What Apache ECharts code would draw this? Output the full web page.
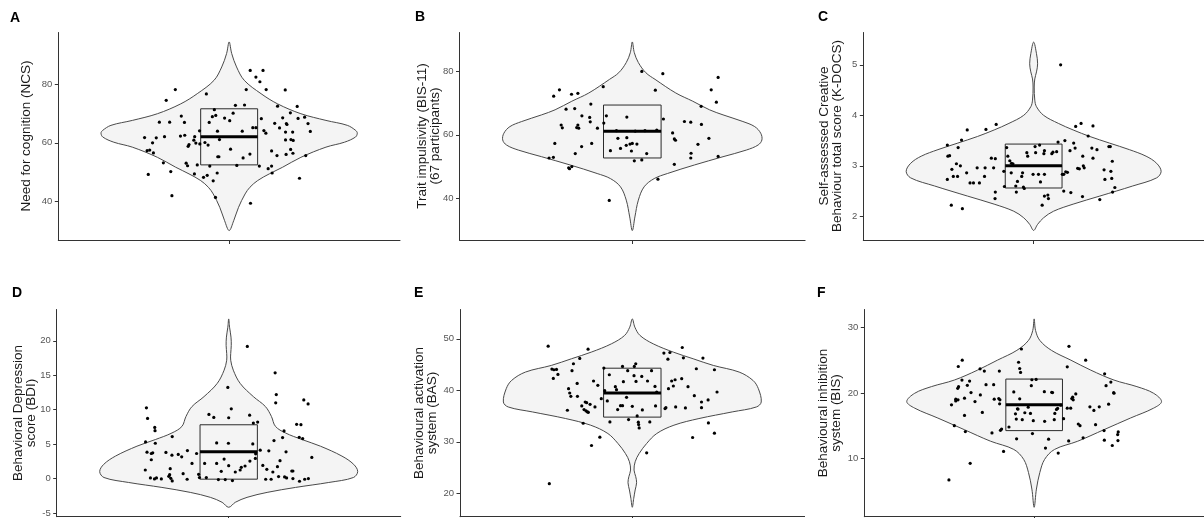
<!DOCTYPE html>
<html><head><meta charset="utf-8">
<script src="https://cdn.jsdelivr.net/npm/echarts@6/dist/echarts.min.js"></script>
<style>html,body{margin:0;padding:0;background:#fff}#c{width:1204px;height:518px}</style>
</head><body><div id="c"></div>
<script>
// ---------- Panel A: Need for cognition (NCS) ----------
const ncsJitter = [-0.189,-0.221,-0.297,-0.256,-0.288,-0.279,-0.266,-0.269,-0.284,-0.231,
-0.201,-0.205,-0.245,-0.209,-0.227,-0.168,-0.157,-0.171,-0.156,-0.151,
-0.146,-0.144,-0.141,-0.124,-0.121,-0.117,-0.122,-0.112,-0.104,-0.103,
-0.090,-0.085,-0.080,-0.077,-0.074,-0.068,-0.070,-0.059,-0.047,-0.056,
-0.042,-0.041,-0.052,-0.040,-0.036,-0.034,-0.048,-0.016,0.002,0.005,
0.014,0.022,0.027,0.046,0.049,0.054,0.060,0.073,0.074,0.075,
0.083,0.094,0.094,0.108,0.113,0.119,0.130,0.106,0.122,0.129,
0.137,0.149,0.149,0.151,0.160,0.168,0.170,0.177,0.188,0.197,
0.198,0.201,0.198,0.200,0.203,0.215,0.216,0.217,0.224,0.223,
0.225,0.239,0.242,0.247,0.265,0.269,0.277,0.285];
const ncsValues = [78.3,74.6,61.8,61.7,57.3,57.5,56.5,60.0,49.1,53.1,
41.8,50.1,67.1,67.1,62.1,69.2,67.0,62.3,62.6,53.0,
52.1,58.8,59.4,60.9,62.1,59.9,49.3,52.4,64.1,59.6,
48.1,60.1,76.8,48.8,59.2,52.0,67.0,69.0,69.4,46.9,
49.6,64.0,71.4,55.2,55.2,61.1,41.2,68.5,67.6,57.8,
70.2,72.9,52.2,64.0,54.8,73.0,78.3,56.1,84.9,39.2,
65.2,65.2,82.6,81.0,68.3,84.9,78.3,52.0,64.2,63.3,
51.1,57.2,52.0,49.6,66.7,55.6,72.6,65.1,68.6,78.2,
63.7,66.6,61.0,56.0,66.3,70.3,57.7,61.1,56.4,63.7,
60.8,72.5,68.4,47.8,68.8,55.6,66.6,63.9];
const ncsViolinY = [94.7,90.7,86.1,81.5,76.9,73.4,70.0,67.7,66.0,64.2,63.3,62.0,60.2,58.5,55.0,51.6,49.3,47.0,44.7,42.4,37.8,33.2,29.8];
const ncsViolinHalfWidth = [0,0.009,0.026,0.053,0.112,0.170,0.252,0.340,0.415,0.445,0.450,0.444,0.405,0.340,0.252,0.188,0.141,0.100,0.073,0.056,0.033,0.016,0];
const ncsBox = [52.4,62.1,71.7];
const ncsTicks = [40,60,80];

// ---------- Panel B: Trait impulsivity (BIS-11) ----------
const bisJitter = [-0.273,-0.253,-0.211,-0.189,-0.101,0.033,0.106,0.080,0.298,0.274,
0.292,-0.230,-0.200,-0.144,-0.175,-0.148,-0.146,-0.121,-0.247,-0.243,
-0.193,-0.189,-0.186,-0.269,-0.289,-0.274,-0.198,-0.176,-0.141,-0.221,
-0.218,-0.210,-0.099,-0.090,-0.019,-0.050,-0.019,-0.076,-0.041,-0.021,
-0.008,0.000,0.016,-0.003,0.050,0.007,0.033,-0.080,0.085,0.108,
0.089,0.140,0.146,0.150,0.146,0.181,0.203,0.239,0.240,0.228,
0.204,0.203,0.266,0.298,-0.055,0.044,0.010];
const bisValues = [72.2,74.2,72.8,73.1,75.2,80.0,79.3,74.1,78.1,74.2,
70.3,68.1,68.3,69.7,66.0,65.5,64.1,62.1,63.1,62.2,
62.3,63.1,62.1,57.3,52.7,52.9,54.1,56.3,57.3,49.6,
49.3,50.0,63.7,66.0,65.6,58.9,59.1,55.0,55.7,56.7,
57.1,57.3,57.1,54.9,54.1,51.8,52.1,39.3,61.5,65.0,
46.0,60.6,58.7,58.3,50.7,64.2,64.0,69.0,63.3,57.0,
54.2,52.7,58.9,53.2,61.3,61.3,61.2];
const bisViolinY = [89.3,85.9,82.8,79.6,77.5,73.2,70.6,67.9,66.3,64.2,62.6,60.5,58.4,56.8,55.2,53.1,50.5,47.8,46.2,43.6,39.4,34.1,29.8];
const bisViolinHalfWidth = [0,0.007,0.021,0.047,0.079,0.151,0.210,0.268,0.315,0.384,0.425,0.446,0.450,0.437,0.396,0.315,0.216,0.122,0.076,0.041,0.021,0.009,0];
const bisBox = [52.7,61.1,69.4];
const bisTicks = [40,60,80];

// ---------- Panel C: K-DOCS ----------
const kdocsJitter = [-0.304,-0.302,-0.296,-0.304,-0.288,-0.272,-0.266,-0.283,-0.268,-0.258,
-0.254,-0.234,-0.290,-0.251,-0.236,-0.224,-0.212,-0.199,-0.191,-0.173,
-0.171,-0.168,-0.132,-0.149,-0.135,-0.141,-0.135,-0.136,-0.105,-0.095,
-0.091,-0.103,-0.084,-0.078,-0.073,-0.079,-0.063,-0.061,-0.057,-0.042,
-0.039,-0.036,-0.033,-0.024,-0.021,-0.002,0.005,0.007,0.017,0.024,
0.021,0.038,0.038,0.036,0.030,0.038,0.052,0.050,0.064,0.068,
0.081,0.086,0.095,0.101,0.106,0.106,0.113,0.119,0.110,0.131,
0.128,0.141,0.146,0.148,0.167,0.155,0.161,0.172,0.173,0.175,
0.178,0.192,0.205,0.209,0.209,0.223,0.233,0.248,0.251,0.265,
0.270,0.272,0.275,0.277,0.278,0.286];
const kdocsValues = [3.41,3.19,3.20,2.73,2.93,3.04,3.36,2.79,2.79,3.00,
3.51,3.71,2.22,2.15,2.86,2.66,2.66,2.96,2.66,2.79,
2.96,3.72,3.82,3.15,3.14,2.96,2.48,2.35,2.89,3.36,
3.19,2.59,3.10,3.05,3.04,2.86,2.60,2.48,2.69,2.79,
2.86,2.58,2.55,3.26,3.19,2.83,3.38,3.26,2.83,2.68,
3.41,3.30,2.83,3.24,2.22,2.40,2.35,2.42,3.24,3.27,
3.28,3.47,5.00,2.83,2.83,2.50,2.88,2.87,3.50,2.47,
3.30,3.45,3.35,3.78,3.84,2.95,2.94,2.39,3.19,3.00,
2.96,3.59,3.35,3.79,3.15,3.32,2.33,2.92,2.73,3.38,
3.38,2.89,2.75,3.09,2.48,2.57];
const kdocsViolinY = [5.45,5.22,5.02,4.86,4.72,4.56,4.30,4.17,4.00,3.84,3.71,3.58,3.45,3.32,3.19,3.05,2.89,2.76,2.60,2.40,2.24,2.10,1.97,1.84,1.72];
const kdocsViolinHalfWidth = [0,0.010,0.014,0.010,0.004,0.002,0.004,0.010,0.035,0.087,0.139,0.198,0.267,0.337,0.396,0.433,0.449,0.433,0.349,0.233,0.139,0.070,0.035,0.014,0];
const kdocsBox = [2.56,3.00,3.43];
const kdocsTicks = [2,3,4,5];

// ---------- Panel D: BDI ----------
const bdiJitter = [-0.287,-0.283,-0.258,-0.257,-0.290,-0.285,-0.270,-0.265,-0.270,-0.256,
-0.291,-0.273,-0.259,-0.252,-0.235,-0.219,-0.209,-0.206,-0.204,-0.202,
-0.197,-0.197,-0.198,-0.176,-0.164,-0.159,-0.145,-0.144,-0.128,-0.112,
-0.105,-0.102,-0.078,-0.084,-0.069,-0.052,-0.042,-0.042,-0.036,-0.026,
-0.016,-0.012,-0.003,0.000,0.009,-0.001,0.000,0.013,0.023,0.040,
0.044,0.057,0.065,0.073,0.074,0.084,0.086,0.093,0.094,0.101,
0.110,0.119,0.133,0.129,0.140,0.148,0.154,0.158,0.162,0.166,
0.164,0.170,0.179,0.174,0.193,0.188,0.200,0.195,0.202,0.220,
0.224,0.224,0.237,0.246,0.247,0.252,0.258,0.262,0.277,0.265,
0.278,0.290];
const bdiValues = [10.26,8.72,7.42,6.94,5.31,3.82,3.63,3.73,2.72,5.12,
1.23,0.08,-0.06,0.08,-0.06,3.78,0.32,0.56,1.42,0.03,
-0.35,6.08,3.39,3.49,3.15,0.70,-0.11,4.06,2.19,3.63,
0.61,0.13,0.13,2.19,9.30,8.86,5.17,2.19,-0.16,1.04,
2.82,-0.16,13.23,8.82,10.11,5.12,1.86,-0.30,0.94,1.23,
1.62,1.81,19.18,9.20,2.53,5.02,8.05,2.91,3.58,8.19,
4.11,1.90,1.33,-0.11,4.02,-0.11,0.94,5.50,15.34,12.18,
10.98,1.71,2.58,0.27,6.90,5.94,3.87,0.22,0.08,1.09,
1.09,-0.02,7.86,5.98,-0.40,7.81,5.79,11.41,10.83,-0.11,
-0.02,3.06];
const bdiViolinY = [23.17,21.97,20.53,19.33,18.13,17.17,15.73,13.81,11.89,10.45,9.01,7.57,6.61,5.65,4.69,3.25,2.05,1.00,0.14,-0.58,-1.30,-2.02,-2.74,-3.46,-4.18];
const bdiViolinHalfWidth = [0,0.003,0.008,0.009,0.007,0.007,0.016,0.040,0.086,0.128,0.149,0.163,0.198,0.256,0.320,0.395,0.436,0.450,0.435,0.349,0.233,0.134,0.064,0.023,0];
const bdiBox = [-0.1,3.9,7.8];
const bdiTicks = [-5,0,5,10,15,20];

// ---------- Panel E: BAS ----------
const basJitter = [-0.293,-0.289,-0.280,-0.273,-0.264,-0.259,-0.275,-0.222,-0.218,-0.214,
-0.226,-0.210,-0.205,-0.192,-0.191,-0.183,-0.176,-0.171,-0.168,-0.164,
-0.161,-0.159,-0.156,-0.153,-0.147,-0.154,-0.142,-0.135,-0.130,-0.120,
-0.113,-0.108,-0.099,-0.096,-0.087,-0.080,-0.078,-0.059,-0.055,-0.051,
-0.041,-0.034,-0.034,-0.031,-0.020,-0.016,-0.013,0.000,0.006,0.007,
0.012,0.013,0.017,0.021,0.022,0.024,0.033,0.035,0.050,0.053,
0.061,0.067,0.079,0.081,0.110,0.114,0.117,0.124,0.126,0.131,
0.137,0.143,0.149,0.151,0.172,0.174,0.178,0.185,0.194,0.210,
0.216,0.223,0.241,0.241,0.246,0.265,0.264,0.286,0.286,0.295,
0.085];
const basValues = [48.58,21.87,44.13,44.00,44.06,43.10,42.32,40.32,39.48,38.84,
36.13,43.81,45.16,41.35,38.84,46.19,36.97,33.61,36.26,37.74,
36.00,37.61,35.81,35.74,37.29,48.00,29.29,41.81,36.77,40.97,
30.90,38.39,44.32,39.94,37.94,43.03,33.87,40.71,40.13,36.26,
37.03,37.03,44.64,41.68,38.65,43.81,34.32,36.90,42.84,44.64,
45.16,41.74,35.03,33.81,33.35,32.71,42.71,36.19,27.87,41.81,
33.87,43.81,40.77,36.97,47.23,36.45,36.64,46.06,40.32,47.35,
41.81,40.84,42.06,36.77,42.26,48.32,46.32,36.58,40.71,30.84,
38.97,44.19,37.74,36.64,46.26,33.68,38.13,44.00,31.68,39.68,
39.68];
const basViolinY = [53.87,52.26,50.65,49.03,47.42,46.13,44.84,43.55,41.94,40.32,37.74,36.77,35.81,34.52,33.23,31.61,29.68,27.74,26.13,24.52,23.23,22.06,20.65,19.03,17.29];
const basViolinHalfWidth = [0,0.009,0.027,0.073,0.143,0.212,0.282,0.372,0.420,0.439,0.449,0.432,0.348,0.232,0.145,0.085,0.050,0.024,0.010,0.006,0.012,0.015,0.010,0.005,0];
const basBox = [34.8,39.5,44.3];
const basTicks = [20,30,40,50];

// ---------- Panel F: BIS ----------
const bsJitter = [-0.268,-0.254,-0.255,-0.267,-0.270,-0.236,-0.228,-0.277,-0.269,-0.277,
-0.246,-0.223,-0.209,-0.190,-0.191,-0.176,-0.292,-0.246,-0.183,-0.282,
-0.243,-0.170,-0.143,-0.149,-0.141,-0.125,-0.121,-0.122,-0.123,-0.119,
-0.115,-0.108,-0.089,-0.072,-0.062,-0.059,-0.057,-0.066,-0.063,-0.055,
-0.051,-0.051,-0.048,-0.045,-0.042,-0.033,-0.021,-0.013,-0.010,-0.008,
-0.003,-0.006,0.007,0.037,0.036,0.040,0.051,0.062,0.065,0.071,
0.073,0.079,0.083,0.085,0.094,0.104,0.117,0.122,0.123,0.117,
0.129,0.133,0.138,0.136,0.147,0.156,0.162,0.173,0.182,0.197,
0.211,0.230,0.217,0.247,0.249,0.248,0.254,0.263,0.271,0.281,
0.282,0.276,0.295,0.297,0.296,-0.226,-0.301];
const bsValues = [24.02,24.98,21.96,20.96,20.70,21.16,21.81,19.05,18.95,18.79,
19.20,20.05,18.69,19.70,23.67,23.32,18.19,16.58,17.04,15.03,
14.12,21.26,21.26,13.92,19.05,19.15,18.95,18.34,23.32,14.32,
14.52,11.11,14.82,20.15,13.02,17.59,17.54,16.83,16.03,24.67,
19.10,23.72,23.12,26.68,15.93,16.99,17.84,16.88,21.11,22.01,
15.78,13.82,22.06,15.68,20.20,11.61,12.97,20.10,20.05,15.93,
16.88,17.49,17.64,10.85,18.14,16.08,23.97,12.71,27.09,17.69,
17.69,19.15,18.95,19.35,19.85,15.28,15.03,13.17,24.98,17.89,
17.34,17.89,15.18,14.27,22.91,12.81,21.11,18.29,21.66,20.05,
19.95,12.01,13.67,14.07,12.76,9.30,6.78];
const bsViolinY = [31.26,29.50,27.99,26.48,24.98,23.47,21.96,20.96,19.95,18.69,17.69,16.18,14.42,12.66,11.41,9.90,7.89,5.38,2.61];
const bsViolinHalfWidth = [0,0.005,0.020,0.061,0.130,0.200,0.282,0.363,0.422,0.450,0.422,0.340,0.247,0.154,0.072,0.037,0.020,0.008,0];
const bsBox = [14.27,18.19,22.11];
const bsTicks = [10,20,30];

// ---------- layout ----------
const FONT = "'Liberation Sans', Arial, Helvetica, sans-serif";
const panels = [
  {label:'A', title:'Need for cognition (NCS)', jitter:ncsJitter, values:ncsValues, vy:ncsViolinY, vw:ncsViolinHalfWidth, box:ncsBox, ticks:ncsTicks,
   yMin:26.55, yMax:97.95, grid:{left:58.3, top:32.5, width:341.7, height:207.5}, lab:[10,18], tit:[26,136]},
  {label:'B', title:'Trait impulsivity (BIS-11)\n(67 participants)', jitter:bisJitter, values:bisValues, vy:bisViolinY, vw:bisViolinHalfWidth, box:bisBox, ticks:bisTicks,
   yMin:26.83, yMax:92.28, grid:{left:459.5, top:32.5, width:345.6, height:207.5}, lab:[415,17], tit:[429,136]},
  {label:'C', title:'Self-assessed Creative\nBehaviour total score (K-DOCS)', jitter:kdocsJitter, values:kdocsValues, vy:kdocsViolinY, vw:kdocsViolinHalfWidth, box:kdocsBox, ticks:kdocsTicks,
   yMin:1.53, yMax:5.64, grid:{left:863.3, top:32.5, width:345, height:207.5}, lab:[818,17], tit:[831,136]},
  {label:'D', title:'Behavioral Depression\nscore (BDI)', jitter:bdiJitter, values:bdiValues, vy:bdiViolinY, vw:bdiViolinHalfWidth, box:bdiBox, ticks:bdiTicks,
   yMin:-5.55, yMax:24.54, grid:{left:56.7, top:309.5, width:344, height:207.2}, lab:[12,293], tit:[25,413]},
  {label:'E', title:'Behavioural activation\nsystem (BAS)', jitter:basJitter, values:basValues, vy:basViolinY, vw:basViolinHalfWidth, box:basBox, ticks:basTicks,
   yMin:15.46, yMax:55.70, grid:{left:460, top:309.5, width:344.6, height:207.2}, lab:[414,293], tit:[426,413]},
  {label:'F', title:'Behavioural inhibition\nsystem (BIS)', jitter:bsJitter, values:bsValues, vy:bsViolinY, vw:bsViolinHalfWidth, box:bsBox, ticks:bsTicks,
   yMin:1.18, yMax:32.69, grid:{left:864.3, top:309.5, width:343.4, height:207.2}, lab:[817,293], tit:[830,413]}
];
const BOX_HALF = 0.1;
const AXIS_COLOR = '#333333';

function violinRenderer(vy, vw) {
  return function (params, api) {
    const right = vy.map((y, i) => api.coord([vw[i], y]));
    const left = [];
    for (let i = vy.length - 2; i >= 1; i--) left.push(api.coord([-vw[i], vy[i]]));
    return {type:'polygon', shape:{points:right.concat(left), smooth:0.35},
      style:{fill:'#F4F4F4', stroke:'#4A4A4A', lineWidth:1}};
  };
}
function boxRenderer(box) {
  return function (params, api) {
    const p1 = api.coord([-BOX_HALF, box[2]]);
    const p2 = api.coord([BOX_HALF, box[0]]);
    const m1 = api.coord([-BOX_HALF, box[1]]);
    const m2 = api.coord([BOX_HALF, box[1]]);
    return {type:'group', children:[
      {type:'rect', shape:{x:p1[0], y:p1[1], width:p2[0]-p1[0], height:p2[1]-p1[1]},
       style:{fill:'none', stroke:'#2b2b2b', lineWidth:1}},
      {type:'line', shape:{x1:m1[0], y1:m1[1], x2:m2[0], y2:m2[1]},
       style:{stroke:'#000', lineWidth:3}}
    ]};
  };
}

const grids = [], xAxes = [], yAxes = [], series = [], graphics = [];
panels.forEach((p, i) => {
  grids.push(Object.assign({containLabel:false}, p.grid));
  xAxes.push({gridIndex:i, type:'value', min:-0.6, max:0.6,
    axisLine:{show:true, onZero:false, lineStyle:{color:AXIS_COLOR, width:1}},
    axisTick:{show:true, customValues:[0], length:4, lineStyle:{color:AXIS_COLOR, width:1}},
    axisLabel:{show:false}, splitLine:{show:false}});
  yAxes.push({gridIndex:i, type:'value', min:p.yMin, max:p.yMax,
    axisLine:{show:true, onZero:false, lineStyle:{color:AXIS_COLOR, width:1}},
    axisTick:{show:true, customValues:p.ticks, length:3.5, lineStyle:{color:AXIS_COLOR, width:1}},
    axisLabel:{show:true, customValues:p.ticks, color:'#555555', fontSize:9.5, fontFamily:FONT, margin:6},
    splitLine:{show:false}});
  series.push({type:'custom', xAxisIndex:i, yAxisIndex:i, data:[[0, p.vy[0]]], renderItem:violinRenderer(p.vy, p.vw), silent:true, z:1});
  series.push({type:'custom', xAxisIndex:i, yAxisIndex:i, data:[[0, p.box[1]]], renderItem:boxRenderer(p.box), silent:true, z:2});
  series.push({type:'scatter', xAxisIndex:i, yAxisIndex:i, data:p.values.map((v, k) => [p.jitter[k], v]),
    symbol:'circle', symbolSize:3.2, itemStyle:{color:'#000', opacity:1}, silent:true, z:3});
  graphics.push({type:'text', x:p.lab[0], y:p.lab[1],
    style:{text:p.label, font:'bold 14px ' + FONT, fill:'#000', align:'left', verticalAlign:'middle'}});
  graphics.push({type:'text', x:p.tit[0], y:p.tit[1], rotation:Math.PI/2,
    style:{text:p.title, font:'13.5px ' + FONT, fill:'#1a1a1a', align:'center', verticalAlign:'middle', lineHeight:12.5}});
});

const chart = echarts.init(document.getElementById('c'), null, {renderer:'canvas'});
chart.setOption({animation:false, backgroundColor:'#ffffff', grid:grids, xAxis:xAxes, yAxis:yAxes, series:series, graphic:graphics});
</script></body></html>
